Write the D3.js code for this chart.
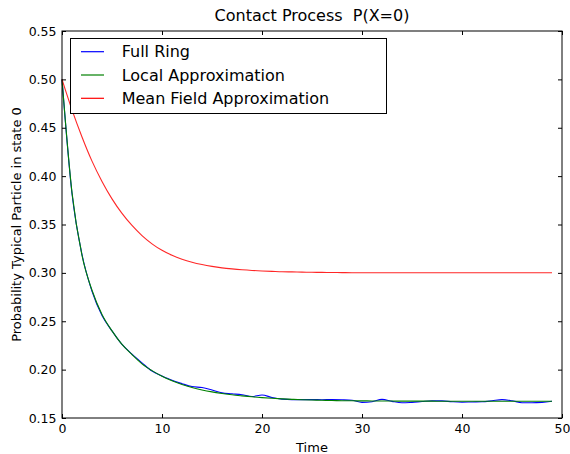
<!DOCTYPE html>
<html>
<head>
<meta charset="utf-8">
<script src="https://cdn.jsdelivr.net/npm/d3@7"></script>
<style>
  html, body { margin: 0; padding: 0; background: #fff; }
  svg { display: block; font-family: "DejaVu Sans", sans-serif; }
  text { white-space: pre; }
</style>
</head>
<body>
<svg id="chart" width="570" height="454"></svg>
<script>
const times = d3.range(0, 50);
const fullRing = [0.500,0.382,0.319,0.281,0.256,0.240,0.226,0.216,0.207,0.1985,
  0.1935,0.189,0.1855,0.1825,0.1815,0.1790,0.1760,0.1750,0.1740,0.1722,
  0.1738,0.1712,0.1695,0.1690,0.1690,0.1690,0.1689,0.1690,0.1688,0.1683,
  0.1662,0.1668,0.1693,0.1672,0.1657,0.1662,0.1670,0.1677,0.1677,0.1668,
  0.1663,0.1666,0.1668,0.1678,0.1690,0.1678,0.1658,0.1657,0.1662,0.1673];
const localApprox = [0.500,0.383,0.318,0.282,0.257,0.240,0.226,0.2155,0.2060,0.1990,
  0.1932,0.1884,0.1846,0.1815,0.1790,0.1770,0.1754,0.1740,0.1729,0.1719,
  0.1711,0.1704,0.1698,0.1693,0.1689,0.1686,0.1683,0.1681,0.1679,0.1678,
  0.1677,0.1676,0.1675,0.1675,0.1674,0.1674,0.1674,0.1674,0.1673,0.1673,
  0.1673,0.1673,0.1673,0.1673,0.1673,0.1673,0.1673,0.1673,0.1673,0.1673];
const meanField = [0.500,0.4685,0.4405,0.4155,0.3945,0.3765,0.3615,0.3490,0.3385,0.3300,
  0.3233,0.3181,0.3141,0.3110,0.3086,0.3067,0.3052,0.3041,0.3032,0.3025,
  0.3020,0.3016,0.3012,0.3010,0.3008,0.3006,0.3005,0.3004,0.3003,0.3002,
  0.3002,0.3002,0.3001,0.3001,0.3001,0.3001,0.3001,0.3001,0.3001,0.3001,
  0.3001,0.3001,0.3001,0.3001,0.3001,0.3001,0.3001,0.3001,0.3001,0.3001];
const xTicks = [0, 10, 20, 30, 40, 50];
const yTicks = [0.15, 0.20, 0.25, 0.30, 0.35, 0.40, 0.45, 0.50, 0.55];
const seriesNames = ["Full Ring", "Local Approximation", "Mean Field Approximation"];
const seriesColors = ["#0000ff", "#008000", "#ff0000"];
const title = "Contact Process  P(X=0)";
const xLabel = "Time";
const yLabel = "Probability Typical Particle in state 0";

const series = [fullRing, localApprox, meanField];

const svg = d3.select("#chart");
const m = { left: 62, top: 31, right: 562, bottom: 418 };
const x = d3.scaleLinear().domain([0, 50]).range([m.left, m.right]);
const y = d3.scaleLinear().domain([0.15, 0.55]).range([m.bottom, m.top]);

// lines
const line = d3.line().x((d, i) => x(times[i])).y(d => y(d)).curve(d3.curveMonotoneX);
series.forEach((s, i) => {
  svg.append("path").datum(s)
    .attr("d", line)
    .attr("fill", "none")
    .attr("stroke", seriesColors[i])
    .attr("stroke-width", 1.1)
    .attr("stroke-opacity", i === 2 ? 0.85 : 1);
});

// axes (ticks inward)
const fmtY = d3.format(".2f");
const gB = svg.append("g").attr("transform", `translate(0,${m.bottom})`)
  .call(d3.axisBottom(x).tickValues(xTicks).tickSize(-4).tickPadding(6).tickFormat(d3.format("d")));
const gT = svg.append("g").attr("transform", `translate(0,${m.top})`)
  .call(d3.axisTop(x).tickValues(xTicks).tickSize(-4).tickFormat(""));
const gL = svg.append("g").attr("transform", `translate(${m.left},0)`)
  .call(d3.axisLeft(y).tickValues(yTicks).tickSize(-4).tickPadding(5.5).tickFormat(fmtY));
const gR = svg.append("g").attr("transform", `translate(${m.right},0)`)
  .call(d3.axisRight(y).tickValues(yTicks).tickSize(-4).tickFormat(""));
[gB, gT, gL, gR].forEach(g => {
  g.select(".domain").remove();
  g.selectAll(".tick line").attr("stroke", "#000").attr("stroke-width", 1);
  g.selectAll(".tick text").attr("fill", "#000").attr("font-size", 12.5)
    .attr("font-family", "DejaVu Sans, sans-serif");
});

// frame
svg.append("rect")
  .attr("x", m.left).attr("y", m.top)
  .attr("width", m.right - m.left).attr("height", m.bottom - m.top)
  .attr("fill", "none").attr("stroke", "#000").attr("stroke-width", 1);

// title and labels
svg.append("text").attr("x", (m.left + m.right) / 2).attr("y", 21)
  .attr("text-anchor", "middle").attr("font-size", 16).attr("fill", "#000").text(title);
svg.append("text").attr("x", (m.left + m.right) / 2).attr("y", 452)
  .attr("text-anchor", "middle").attr("font-size", 13).attr("fill", "#000").text(xLabel);
svg.append("text").attr("transform", `translate(21,${(m.top + m.bottom) / 2}) rotate(-90)`)
  .attr("text-anchor", "middle").attr("font-size", 13).attr("fill", "#000").text(yLabel);

// legend
const lg = svg.append("g");
lg.append("rect").attr("x", 70.5).attr("y", 38.5).attr("width", 316).attr("height", 75)
  .attr("fill", "#fff").attr("stroke", "#000").attr("stroke-width", 1);
seriesNames.forEach((name, i) => {
  const yy = 51.7 + i * 23.3;
  lg.append("line").attr("x1", 81).attr("x2", 104).attr("y1", yy).attr("y2", yy)
    .attr("stroke", seriesColors[i]).attr("stroke-width", 1.2);
  lg.append("text").attr("x", 121.7).attr("y", yy).attr("dy", "0.36em")
    .attr("font-size", 16).attr("fill", "#000").text(name);
});
</script>
</body>
</html>
